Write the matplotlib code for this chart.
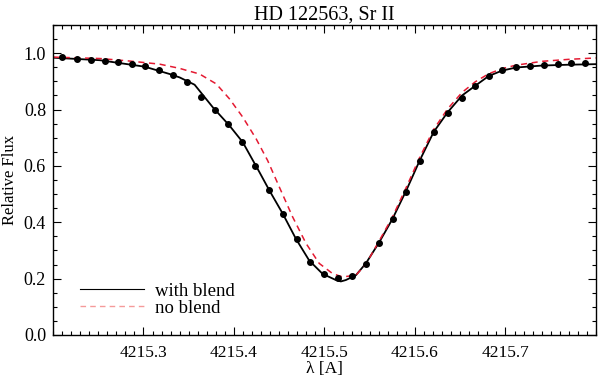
import matplotlib
matplotlib.use('Agg')
import matplotlib.pyplot as plt
from matplotlib.lines import Line2D
from matplotlib.ticker import MultipleLocator, FormatStrFormatter
import numpy as np

# observed spectrum (dots)
obs_wave = np.array([
    4215.2102, 4215.2261, 4215.2415, 4215.2570, 4215.2720, 4215.2874,
    4215.3021, 4215.3176, 4215.3326, 4215.3480, 4215.3631, 4215.3785,
    4215.3936, 4215.4086, 4215.4237, 4215.4391, 4215.4542, 4215.4696,
    4215.4843, 4215.4997, 4215.5148, 4215.5303, 4215.5457, 4215.5603,
    4215.5754, 4215.5904, 4215.6052, 4215.6209, 4215.6364, 4215.6515,
    4215.6665, 4215.6819, 4215.6966, 4215.7116, 4215.7271, 4215.7421,
    4215.7576, 4215.7727, 4215.7877])
obs_flux = np.array([
    0.985, 0.981, 0.977, 0.973, 0.969, 0.962,
    0.953, 0.941, 0.923, 0.896, 0.846, 0.800,
    0.749, 0.686, 0.601, 0.513, 0.428, 0.342,
    0.259, 0.216, 0.204, 0.211, 0.252, 0.328,
    0.412, 0.508, 0.619, 0.719, 0.788, 0.841,
    0.884, 0.918, 0.939, 0.950, 0.953, 0.957,
    0.963, 0.965, 0.966])

# synthetic spectrum, with blend
blend_wave = np.array([
    4215.2000, 4215.2518, 4215.3014, 4215.3289, 4215.3399, 4215.3565,
    4215.3766, 4215.3950, 4215.4097, 4215.4281, 4215.4391, 4215.4538,
    4215.4685, 4215.4832, 4215.4979, 4215.5126, 4215.5181, 4215.5236,
    4215.5347, 4215.5457, 4215.5603, 4215.5750, 4215.5904, 4215.6052,
    4215.6206, 4215.6360, 4215.6521, 4215.6669, 4215.6815, 4215.6962,
    4215.7116, 4215.7403, 4215.7697, 4215.8000])
blend_flux = np.array([
    0.984, 0.975, 0.952, 0.926, 0.914, 0.888,
    0.808, 0.743, 0.684, 0.578, 0.513, 0.431,
    0.341, 0.264, 0.217, 0.195, 0.190, 0.195,
    0.212, 0.254, 0.328, 0.411, 0.513, 0.619,
    0.720, 0.790, 0.850, 0.885, 0.919, 0.938,
    0.949, 0.956, 0.959, 0.961])

# synthetic spectrum, no blend
noblend_wave = np.array([
    4215.2000, 4215.2518, 4215.2848, 4215.3179, 4215.3399, 4215.3620,
    4215.3804, 4215.3950, 4215.4097, 4215.4245, 4215.4372, 4215.4501,
    4215.4648, 4215.4796, 4215.4942, 4215.5089, 4215.5199, 4215.5347,
    4215.5457, 4215.5603, 4215.5750, 4215.5904, 4215.6052, 4215.6206,
    4215.6360, 4215.6521, 4215.6669, 4215.6815, 4215.6962, 4215.7110,
    4215.7403, 4215.7697, 4215.8000])
noblend_flux = np.array([
    0.986, 0.981, 0.972, 0.961, 0.946, 0.926,
    0.891, 0.838, 0.773, 0.696, 0.619, 0.525,
    0.419, 0.325, 0.254, 0.218, 0.206, 0.212,
    0.251, 0.333, 0.418, 0.524, 0.630, 0.729,
    0.802, 0.861, 0.899, 0.927, 0.945, 0.957,
    0.971, 0.978, 0.983])

xticks = [4215.3, 4215.4, 4215.5, 4215.6, 4215.7]
red = '#e41a32'

plt.rcParams.update({
    'font.family': ['Liberation Serif', 'DejaVu Serif'],
    'font.size': 12,
    'xtick.direction': 'in',
    'ytick.direction': 'in',
    'xtick.top': True,
    'ytick.right': True,
    'axes.linewidth': 1.0,
})

fig = plt.figure(figsize=(6.0, 3.79), dpi=100)
ax = fig.add_axes([0.0883, 0.1161, 0.905, 0.818])

ax.plot(blend_wave, blend_flux, color='black', lw=1.3)
ax.plot(noblend_wave, noblend_flux, color=red, lw=1.1, ls=(0, (4, 3)))
ax.plot(obs_wave, obs_flux, 'o', color='black', ms=4)

ax.set_xlim(4215.2, 4215.8)
ax.set_ylim(0.0, 1.1)
ax.set_xticks(xticks)
ax.xaxis.set_minor_locator(MultipleLocator(0.01))
ax.yaxis.set_major_locator(MultipleLocator(0.2))
ax.yaxis.set_minor_locator(MultipleLocator(0.05))
ax.xaxis.set_major_formatter(FormatStrFormatter('%.1f'))
ax.yaxis.set_major_formatter(FormatStrFormatter('%.1f'))
ax.tick_params(which='major', length=6, width=0.8, labelsize=13)
ax.tick_params(axis='x', which='major', pad=7, labelsize=12.5)
ax.tick_params(axis='y', which='major', pad=5)
ax.tick_params(which='minor', length=3, width=0.8)

ax.set_xlabel('λ [A]', fontsize=12.5, labelpad=0)
ax.set_ylabel('Relative Flux', fontsize=12, labelpad=4)
ax.set_title('HD 122563, Sr II', fontsize=14.5, pad=4)

handles = [Line2D([], [], color='black', lw=0.8),
           Line2D([], [], color='#f59a9a', lw=1.0, ls=(0, (4, 3)))]
ax.legend(handles, ['with blend', 'no blend'], loc='lower left',
          bbox_to_anchor=(0.036, 0.035), frameon=False, fontsize=13.5,
          handlelength=3.4, handletextpad=0.6, labelspacing=0.0,
          borderaxespad=0)

fig.savefig('out.png', dpi=100)
